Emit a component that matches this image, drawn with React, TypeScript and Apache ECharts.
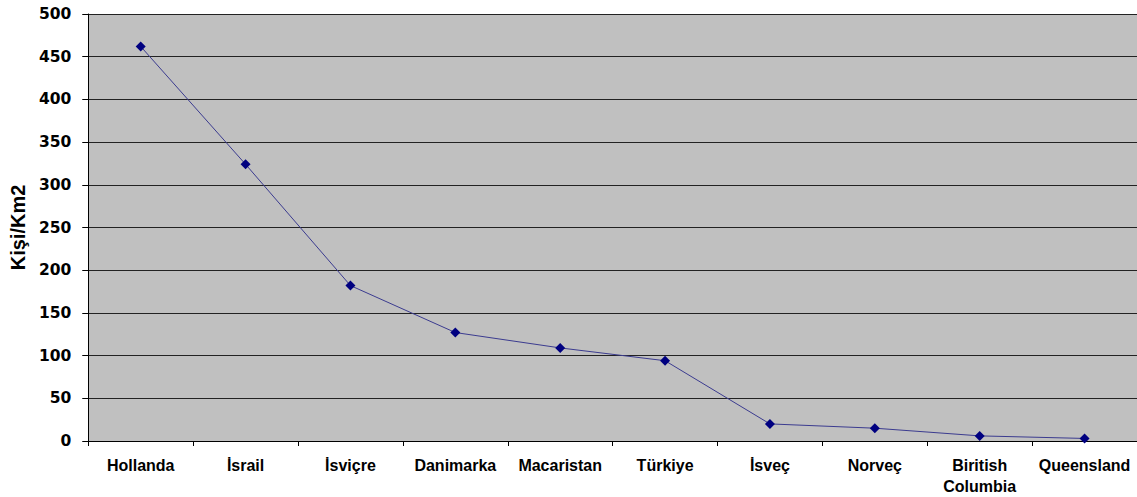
import React, { useEffect, useRef } from "react";
import * as echarts from "echarts";

const categories = ["Hollanda", "İsrail", "İsviçre", "Danimarka", "Macaristan", "Türkiye", "İsveç", "Norveç", "Biritish\nColumbia", "Queensland"];
const values = [462, 324, 182, 127, 109, 94, 20, 15, 6, 3];
const yAxisName = "Kişi/Km2";

export default function App() {
  const ref = useRef<HTMLDivElement>(null);
  useEffect(() => {
    const chart = echarts.init(ref.current!, undefined, { renderer: "svg" });
    chart.setOption({
      animation: false,
      backgroundColor: "#ffffff",
      textStyle: { fontFamily: "Liberation Sans, Arial, sans-serif" },
      grid: { left: 86, right: 0, top: 14, bottom: 56, show: true, backgroundColor: "#C0C0C0", borderWidth: 0 },
      xAxis: {
        type: "category",
        data: categories,
        boundaryGap: true,
        axisLine: { lineStyle: { color: "#000", width: 1 } },
        axisTick: { show: true, alignWithLabel: false, length: 5, inside: false, lineStyle: { color: "#000" } },
        axisLabel: { color: "#000", fontWeight: "bold", fontSize: 16, margin: 14, lineHeight: 21, interval: 0, fontFamily: "Liberation Sans, Arial, sans-serif" },
      },
      yAxis: {
        type: "value",
        min: 0,
        max: 500,
        interval: 50,
        name: yAxisName,
        nameLocation: "middle",
        nameGap: 56,
        nameTextStyle: { color: "#000", fontWeight: "bold", fontSize: 20, fontFamily: "Liberation Sans, Arial, sans-serif" },
        axisLine: { show: true, lineStyle: { color: "#000", width: 1 } },
        axisTick: { show: true, length: 6, lineStyle: { color: "#000" } },
        axisLabel: { color: "#000", fontWeight: "bold", fontSize: 15.5, margin: 17, fontFamily: "DejaVu Sans, Verdana, sans-serif" },
        splitLine: { show: true, lineStyle: { color: "#222", width: 1 } },
      },
      series: [
        {
          type: "line",
          data: values,
          symbol: "diamond",
          symbolSize: 10,
          lineStyle: { color: "#3B3B8F", width: 1 },
          itemStyle: { color: "#000080" },
        },
      ],
    });
    return () => chart.dispose();
  }, []);
  return <div ref={ref} style={{ position: "absolute", left: 0, top: 0, width: 1137, height: 497 }} />;
}
